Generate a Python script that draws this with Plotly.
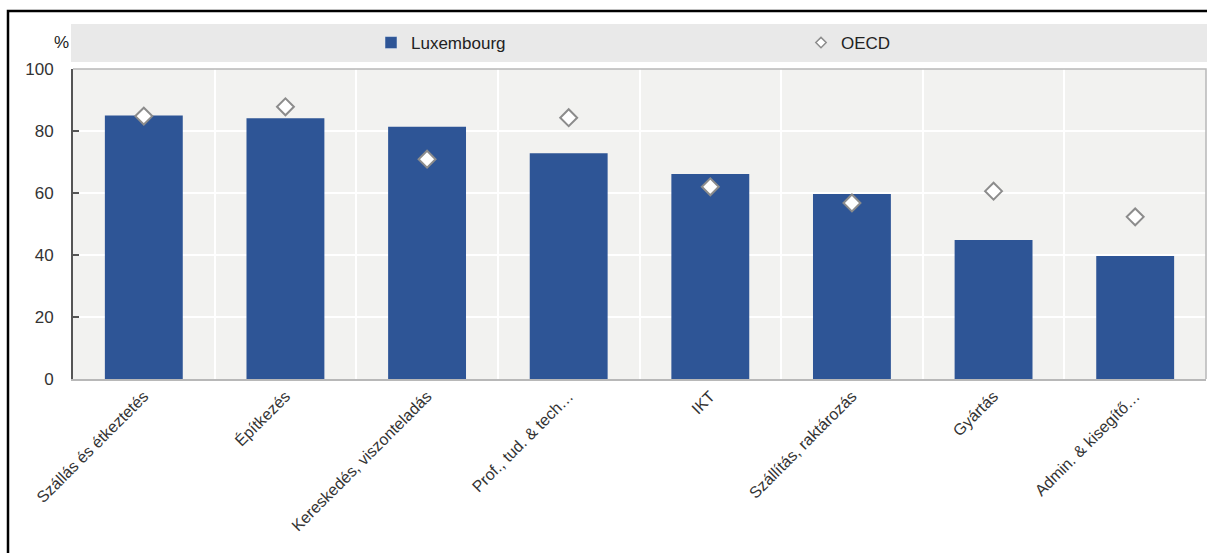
import plotly.graph_objects as go

categories = ["Szállás és étkeztetés", "Építkezés", "Kereskedés, viszonteladás",
              "Prof., tud. & tech…", "IKT", "Szállítás, raktározás", "Gyártás",
              "Admin. & kisegítő…"]
luxembourg = [85.0, 84.1, 81.4, 72.8, 66.1, 59.7, 44.8, 39.7]
oecd = [84.8, 87.8, 70.9, 84.3, 62.0, 56.8, 60.6, 52.3]
y_ticks = [0, 20, 40, 60, 80, 100]

W, H = 1207, 553
L, R, T, B = 73, 1, 69, 174
PW, PH = W - L - R, H - T - B

def px_x(p):
    return (p - L) / PW

def px_y(p):
    return (H - B - p) / PH

BAR = "#2e5596"
FONT = "Liberation Sans, Arial, sans-serif"

fig = go.Figure()
fig.add_trace(go.Bar(x=categories, y=luxembourg, name="Luxembourg",
                     marker=dict(color=BAR, line=dict(width=0)),
                     showlegend=False))
fig.add_trace(go.Scatter(x=categories, y=oecd, name="OECD", mode="markers",
                         marker=dict(symbol="diamond", size=13, color="white",
                                     line=dict(color="#8c8c8c", width=2)),
                         showlegend=False))
# legend entries
fig.add_trace(go.Bar(x=[None], y=[None], name="Luxembourg",
                     marker=dict(color=BAR), showlegend=True, legend="legend"))
fig.add_trace(go.Scatter(x=[None], y=[None], name="OECD", mode="markers",
                         marker=dict(symbol="diamond", size=8, color="white",
                                     line=dict(color="#8c8c8c", width=1.5)),
                         showlegend=True, legend="legend2"))

shapes = [
    # legend band
    dict(type="rect", xref="paper", yref="paper", x0=px_x(71), x1=px_x(1207),
         y0=px_y(62), y1=px_y(24), fillcolor="#e9e9e9", line=dict(width=0),
         layer="below"),
    # plot frame top/right
    dict(type="path", xref="paper", yref="paper",
         path="M 0 1 L 1 1 L 1 0", line=dict(color="#b8b8b8", width=1.5)),
    # outer black frame
    dict(type="path", xref="paper", yref="paper",
         path=f"M {px_x(8)} {px_y(556)} L {px_x(8)} {px_y(11)} L {px_x(1210)} {px_y(11)}",
         line=dict(color="black", width=2.5)),
]

leg_common = dict(orientation="h", y=px_y(43), xanchor="left", yanchor="middle",
                  bgcolor="rgba(0,0,0,0)", font=dict(size=17, color="#222222"))

fig.update_layout(
    width=W, height=H,
    margin=dict(l=L, r=R, t=T, b=B, autoexpand=False),
    paper_bgcolor="white",
    plot_bgcolor="#f2f2f0",
    bargap=0.45,
    font=dict(family=FONT, size=16, color="#333333"),
    shapes=shapes,
    showlegend=True,
    legend=dict(x=px_x(371), **leg_common),
    legend2=dict(x=px_x(801), **leg_common),
    annotations=[dict(text="%", xref="paper", yref="paper", x=px_x(71),
                      y=px_y(43), xanchor="right", yanchor="middle",
                      showarrow=False, font=dict(size=17, color="#222222"))],
    xaxis=dict(type="category", tickangle=-45, showgrid=True, gridcolor="white",
               gridwidth=1.5, tickson="boundaries", ticks="", showline=True,
               linecolor="#b8b8b8", linewidth=1.5,
               tickfont=dict(size=16, color="#333333"), range=[-0.5, 7.5]),
    yaxis=dict(range=[0, 100], tickvals=y_ticks, showgrid=True, gridcolor="white",
               gridwidth=1.5, ticks="inside", ticklen=6, tickwidth=1.5,
               tickcolor="#555555", ticklabelstandoff=14,
               showline=True, linecolor="#555555", linewidth=2,
               tickfont=dict(size=17, color="#333333"), zeroline=False),
)

fig.write_html("out.html")
